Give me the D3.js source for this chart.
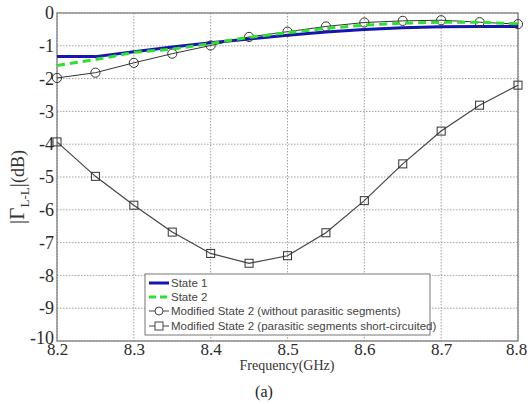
<!DOCTYPE html>
<html>
<head>
<meta charset="utf-8">
<script src="https://cdn.jsdelivr.net/npm/d3@7"></script>
<style>
  html, body { margin: 0; padding: 0; background: #fff; }
  svg { display: block; }
</style>
</head>
<body>
<svg id="chart" width="528" height="404"></svg>
<script>
// Frequency samples (GHz)
const freq = [8.2, 8.25, 8.3, 8.35, 8.4, 8.45, 8.5, 8.55, 8.6, 8.65, 8.7, 8.75, 8.8];

// |Γ L-L| in dB for each configuration
const state1 = [-1.33, -1.33, -1.18, -1.04, -0.91, -0.79, -0.68, -0.58, -0.50, -0.45, -0.42, -0.41, -0.41];
const state2 = [-1.60, -1.42, -1.20, -1.10, -0.93, -0.74, -0.60, -0.47, -0.37, -0.31, -0.28, -0.28, -0.33];
const modNoParasitic = [-1.98, -1.82, -1.52, -1.24, -0.99, -0.73, -0.57, -0.41, -0.29, -0.24, -0.22, -0.28, -0.34];
const modShorted = [-3.93, -4.98, -5.86, -6.68, -7.33, -7.63, -7.40, -6.70, -5.72, -4.60, -3.60, -2.81, -2.20];

const xTicks = [8.2, 8.3, 8.4, 8.5, 8.6, 8.7, 8.8];
const yTicks = [0, -1, -2, -3, -4, -5, -6, -7, -8, -9, -10];

const legendLabels = [
  "State 1",
  "State 2",
  "Modified State 2 (without parasitic segments)",
  "Modified State 2 (parasitic segments short-circuited)"
];

const svg = d3.select("#chart");
const plot = { left: 57, right: 518, top: 13, bottom: 341 };

const x = d3.scaleLinear().domain([8.2, 8.8]).range([plot.left, plot.right]);
const y = d3.scaleLinear().domain([-10, 0]).range([plot.bottom, plot.top]);

const serif = "'Liberation Serif', 'Times New Roman', serif";
const sans = "'Liberation Sans', Arial, sans-serif";

// Dotted grid
const grid = svg.append("g");
grid.selectAll("line.vx").data(xTicks).join("line")
  .attr("x1", d => x(d)).attr("x2", d => x(d))
  .attr("y1", plot.top).attr("y2", plot.bottom)
  .attr("stroke", "#8a8a8a").attr("stroke-width", 0.8).attr("stroke-dasharray", "1.5,1.5");
grid.selectAll("line.hy").data(yTicks).join("line")
  .attr("x1", plot.left).attr("x2", plot.right)
  .attr("y1", d => y(d)).attr("y2", d => y(d))
  .attr("stroke", "#8a8a8a").attr("stroke-width", 0.8).attr("stroke-dasharray", "1.5,1.5");

// Axes
const xAxis = d3.axisBottom(x).tickValues(xTicks).tickFormat(d3.format(".1f")).tickSize(0).tickPadding(2);
const yAxis = d3.axisLeft(y).tickValues(yTicks).tickFormat(d => d === 0 ? "0" : String(d)).tickSize(0).tickPadding(3);

const gx = svg.append("g").attr("transform", `translate(0,${plot.bottom})`).call(xAxis);
const gy = svg.append("g").attr("transform", `translate(${plot.left},0)`).call(yAxis);
[gx, gy].forEach(g => {
  g.attr("font-family", null).attr("font-size", null);
  g.select(".domain").remove();
  g.selectAll("text")
    .style("font-family", serif).style("font-size", "18px").attr("fill", "#2a2a2a");
});
gx.selectAll("text").style("font-size", "17px");
gx.selectAll("text").filter(d => d === 8.8).attr("dx", "-2");
gy.selectAll("text").filter(d => d === -10).attr("dy", "0.12em");

// Plot frame
svg.append("rect")
  .attr("x", plot.left).attr("y", plot.top)
  .attr("width", plot.right - plot.left).attr("height", plot.bottom - plot.top)
  .attr("fill", "none").attr("stroke", "#777").attr("stroke-width", 1.2);

const line = d3.line().x((d, i) => x(freq[i])).y(d => y(d));

// State 1
svg.append("path").datum(state1).attr("d", line)
  .attr("fill", "none").attr("stroke", "#1515b0").attr("stroke-width", 3);

// Modified state 2 without parasitic segments (circles)
svg.append("path").datum(modNoParasitic).attr("d", line)
  .attr("fill", "none").attr("stroke", "#333").attr("stroke-width", 1);
svg.append("g").selectAll("circle").data(modNoParasitic).join("circle")
  .attr("cx", (d, i) => x(freq[i])).attr("cy", d => y(d)).attr("r", 4.6)
  .attr("fill", "none").attr("stroke", "#333").attr("stroke-width", 1);

// State 2 (dashed)
svg.append("path").datum(state2).attr("d", line)
  .attr("fill", "none").attr("stroke", "#2ee02e").attr("stroke-width", 3)
  .attr("stroke-dasharray", "8,5");

// Modified state 2 with short-circuited parasitic segments (squares)
svg.append("path").datum(modShorted).attr("d", line)
  .attr("fill", "none").attr("stroke", "#444").attr("stroke-width", 1.2);
svg.append("g").selectAll("rect").data(modShorted).join("rect")
  .attr("x", (d, i) => x(freq[i]) - 4).attr("y", d => y(d) - 4)
  .attr("width", 8).attr("height", 8)
  .attr("fill", "none").attr("stroke", "#333").attr("stroke-width", 1);

// Legend
const lg = svg.append("g").attr("transform", "translate(145,274)");
lg.append("rect").attr("width", 285).attr("height", 61)
  .attr("fill", "#fff").attr("stroke", "#777").attr("stroke-width", 1);
const rowY = [9, 23, 37, 52];
lg.append("line").attr("x1", 4).attr("x2", 24).attr("y1", rowY[0]).attr("y2", rowY[0])
  .attr("stroke", "#1515b0").attr("stroke-width", 3);
lg.append("line").attr("x1", 4).attr("x2", 24).attr("y1", rowY[1]).attr("y2", rowY[1])
  .attr("stroke", "#2ee02e").attr("stroke-width", 3).attr("stroke-dasharray", "7,4");
lg.append("line").attr("x1", 4).attr("x2", 24).attr("y1", rowY[2]).attr("y2", rowY[2])
  .attr("stroke", "#444").attr("stroke-width", 1);
lg.append("circle").attr("cx", 14).attr("cy", rowY[2]).attr("r", 4)
  .attr("fill", "#fff").attr("stroke", "#444").attr("stroke-width", 1);
lg.append("line").attr("x1", 4).attr("x2", 24).attr("y1", rowY[3]).attr("y2", rowY[3])
  .attr("stroke", "#444").attr("stroke-width", 1);
lg.append("rect").attr("x", 10).attr("y", rowY[3] - 4).attr("width", 8).attr("height", 8)
  .attr("fill", "#fff").attr("stroke", "#444").attr("stroke-width", 1);
lg.selectAll("text").data(legendLabels).join("text")
  .attr("x", 26).attr("y", (d, i) => rowY[i]).attr("dy", "0.35em")
  .attr("font-family", sans).attr("font-size", 11.5).attr("fill", "#444")
  .text(d => d);

// Axis titles
svg.append("text")
  .attr("x", 287).attr("y", 370).attr("text-anchor", "middle")
  .style("font-family", serif).style("font-size", "14px").attr("fill", "#333")
  .text("Frequency(GHz)");

const yl = svg.append("text")
  .attr("transform", "translate(24,187) rotate(-90)")
  .attr("text-anchor", "middle")
  .style("font-family", serif).style("font-size", "21px").attr("fill", "#333");
yl.append("tspan").text("|Γ");
yl.append("tspan").style("font-size", "13px").attr("dy", 5).text("L-L");
yl.append("tspan").attr("dy", -5).text("|");
yl.append("tspan").style("font-size", "18px").text("(dB)");

svg.append("text")
  .attr("x", 264).attr("y", 397).attr("text-anchor", "middle")
  .style("font-family", serif).style("font-size", "16px").attr("fill", "#222")
  .text("(a)");
</script>
</body>
</html>
